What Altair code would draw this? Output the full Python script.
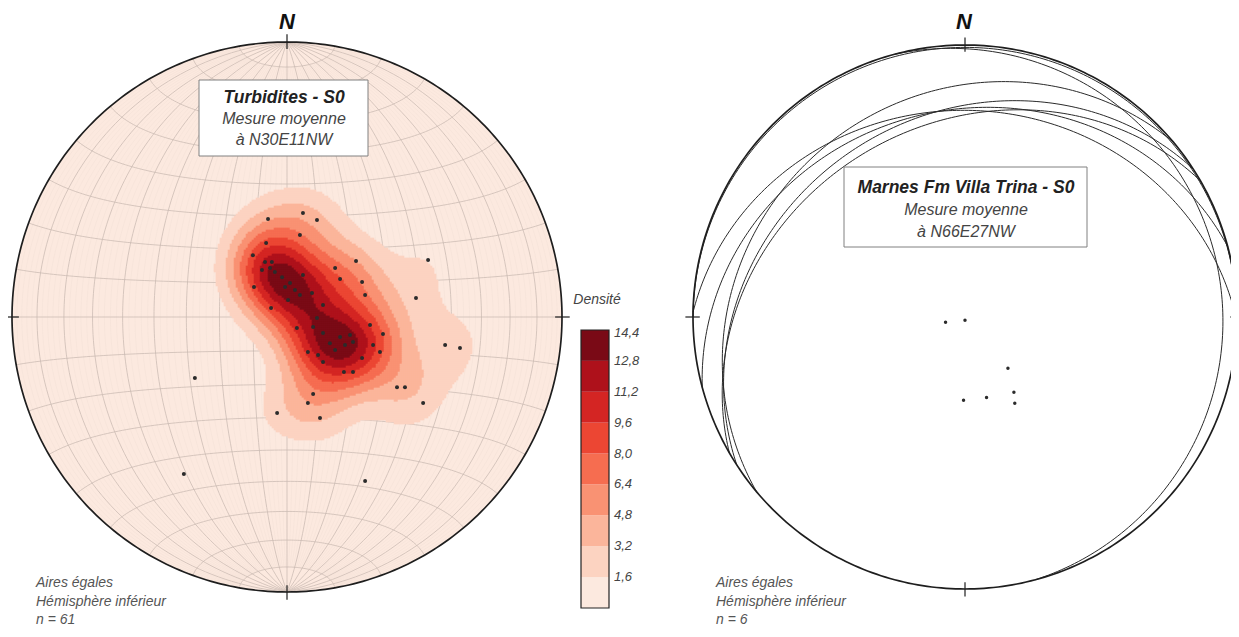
import math
import numpy as np
import pandas as pd
import altair as alt

# ---------------- data ----------------
# Left net (Turbidites - S0): poles to bedding, equal-area net coordinates
# (unit radius, x = East, y = North), n = 61
left_x = [-0.069, 0.058, 0.109, 0.047, -0.076, -0.124, 0.251, 0.513, 0.175, -0.091,
          -0.062, -0.018, 0.193, 0.273, -0.120, -0.007, 0.029, 0.058, 0.284, 0.469,
          0.004, 0.091, -0.058, 0.131, 0.036, 0.109, 0.095, 0.302, 0.349, 0.131,
          0.193, 0.240, 0.156, 0.076, 0.113, 0.131, 0.273, 0.313, 0.338, 0.207,
          0.240, 0.575, 0.629, 0.400, 0.095, 0.076, -0.036, 0.120, 0.495, -0.335,
          -0.375, 0.284, 0.429, -0.044, 0.011, -0.055, 0.211, 0.175, 0.047, -0.080, 0.229]
left_y = [0.356, 0.378, 0.353, 0.298, 0.269, 0.225, 0.204, 0.207, 0.178, 0.171,
          0.178, 0.145, 0.138, 0.127, 0.109, 0.109, 0.098, 0.153, 0.080, 0.069,
          0.062, 0.087, 0.033, 0.044, -0.040, -0.004, -0.036, -0.029, -0.062, -0.058,
          -0.073, -0.091, -0.095, -0.127, -0.138, -0.164, -0.149, -0.102, -0.127, -0.200,
          -0.200, -0.102, -0.113, -0.255, -0.280, -0.313, -0.349, -0.367, -0.313, -0.222,
          -0.571, -0.596, -0.255, 0.164, 0.124, 0.200, -0.102, -0.120, 0.080, 0.200, -0.065]

# Right net (Marnes Fm Villa Trina - S0): planes as dip direction / dip (degrees)
right_dipdir = [75, 0, 320, 1, 345, 327, 330]
right_dip = [6, 1, 20, 25, 25, 27, 30]

# Density legend (% per 1% area)
level_values = [1.6, 3.2, 4.8, 6.4, 8.0, 9.6, 11.2, 12.8, 14.4]
level_labels = ["1,6", "3,2", "4,8", "6,4", "8,0", "9,6", "11,2", "12,8", "14,4"]
level_colors = ["#fce9df", "#fcd3c1", "#fbb59b", "#f99273", "#f66d50",
                "#ec4633", "#d42523", "#ae111b", "#7a0a16"]

# ---------------- layout ----------------
LC = (287.0, 317.0); LR = 275.0      # left net centre / radius (page px)
RC = (965.0, 317.0); RR = 272.0      # right net centre / radius
FONT = "Liberation Sans"


def project(e, n, d):
    d = np.clip(d, 0, 1)
    s = 1.0 / np.sqrt(1.0 + d)
    return e * s, n * s


def plane_curve(dd, dip, t0=0.0, t1=180.0, npts=121):
    t = np.radians(np.linspace(t0, t1, npts))
    st = math.radians(dd - 90); a = math.radians(dd); b = math.radians(dip)
    se, sn = math.sin(st), math.cos(st)
    de, dn, dz = math.sin(a) * math.cos(b), math.cos(a) * math.cos(b), math.sin(b)
    e = np.cos(t) * se + np.sin(t) * de
    n = np.cos(t) * sn + np.sin(t) * dn
    d = np.sin(t) * dz
    return project(e, n, d)


def small_circle(alpha, sign, npts=121):
    phi = np.radians(np.linspace(0, 180, npts))
    a = math.radians(alpha)
    e = np.sin(a) * np.cos(phi)
    n = sign * math.cos(a) * np.ones_like(phi)
    d = np.sin(a) * np.sin(phi)
    return project(e, n, d)


def curves_df(curves, c, R):
    rows = []
    for gi, (ux, uy) in enumerate(curves):
        for oi, (a, b) in enumerate(zip(ux, uy)):
            rows.append((c[0] + R * a, c[1] - R * b, gi, oi))
    return pd.DataFrame(rows, columns=["x", "y", "g", "o"])


# ---------------- left net grid ----------------
fine, major = [], []
for dip in range(2, 90, 2):
    for dd in (90, 270):
        if dip % 10 == 0:
            major.append(plane_curve(dd, dip))
        else:
            fine.append(plane_curve(dd, dip, 10, 170, 81))
major.append(plane_curve(90, 90))
for al in range(10, 90, 10):
    for sg in (1, -1):
        major.append(small_circle(al, sg))
major.append(small_circle(90, 1))

fine_df = curves_df(fine, LC, LR)
major_df = curves_df(major, LC, LR)

# primitive circles
th = np.linspace(0, 2 * np.pi, 361)
circ = (np.sin(th), np.cos(th))
prim_df = pd.concat([curves_df([circ], LC, LR).assign(g=0),
                     curves_df([circ], RC, RR).assign(g=1)])

# ticks at N, E, S, W
tick_rows = []
gi = 0
for c, R in ((LC, LR), (RC, RR)):
    for az in (0, 90, 180, 270):
        a = math.radians(az)
        for oi, rr in enumerate((0.975, 1.028)):
            tick_rows.append((c[0] + R * rr * math.sin(a), c[1] - R * rr * math.cos(a), gi, oi))
        gi += 1
tick_df = pd.DataFrame(tick_rows, columns=["x", "y", "g", "o"])

# right net great circles
arcs_df = curves_df([plane_curve(dd, dp, 0, 180, 181) for dd, dp in zip(right_dipdir, right_dip)], RC, RR)

# right net poles
rp_rows = []
for dd, dp in zip(right_dipdir, right_dip):
    tr = math.radians(dd + 180); pl = math.radians(90 - dp)
    ex, ny = project(np.array(math.sin(tr) * math.cos(pl)), np.array(math.cos(tr) * math.cos(pl)),
                     np.array(math.sin(pl)))
    rp_rows.append((RC[0] + RR * float(ex), RC[1] - RR * float(ny)))
rpoles_df = pd.DataFrame(rp_rows, columns=["x", "y"])

# left poles
lx = np.array(left_x); ly = np.array(left_y)
lpoles_df = pd.DataFrame({"x": LC[0] + LR * lx, "y": LC[1] - LR * ly})

# ---------------- density (exponential kernel on the sphere) ----------------
r2p = lx ** 2 + ly ** 2
pd_ = 1 - r2p
pf = np.sqrt(1 + pd_)
PV = np.stack([lx * pf, ly * pf, pd_], axis=1)

step = 2.0
pxs = np.arange(LC[0] - LR + step / 2, LC[0] + LR, step)
pys = np.arange(LC[1] - LR + step / 2, LC[1] + LR, step)
GX, GY = np.meshgrid(pxs, pys)
U = (GX - LC[0]) / LR; V = (LC[1] - GY) / LR
R2 = U ** 2 + V ** 2
inside = R2 < 0.99
U = U[inside]; V = V[inside]; GXi = GX[inside]; GYi = GY[inside]
dz = 1 - (U ** 2 + V ** 2)
f = np.sqrt(1 + dz)
G = np.stack([U * f, V * f, dz], axis=1)
k = 55.0
dots = G @ PV.T
dens = k / len(left_x) * np.exp(k * (dots - 1)).sum(axis=1)
dens = dens * (level_values[-1] * 0.999 / dens.max())
lvl = np.clip(np.floor(dens / 1.6), 0, 8).astype(int)
sel = lvl >= 1
h = step / 2 + 0.3
cells_df = pd.DataFrame({"x": GXi[sel] - h, "x2": GXi[sel] + h,
                         "y": GYi[sel] - h, "y2": GYi[sel] + h, "lvl": lvl[sel]})

# ---------------- colour bar ----------------
CB_X0, CB_X1, CB_BOT, CB_H = 581, 609, 608, 278
top = level_values[-1]
bounds = [0.0] + level_values
cb_df = pd.DataFrame({
    "lvl": list(range(9)),
    "y": [CB_BOT - bounds[i + 1] / top * CB_H for i in range(9)],
    "y2": [CB_BOT - bounds[i] / top * CB_H for i in range(9)],
})
cbl_df = pd.DataFrame({"t": level_labels,
                       "y": [CB_BOT - v / top * CB_H + (3 if i == 8 else 0) for i, v in enumerate(level_values)]})

# ---------------- chart ----------------
X = lambda: alt.X("x:Q", scale=alt.Scale(domain=[8, 1231], nice=False, zero=False), axis=None)
Y = lambda f="y:Q": alt.Y(f, scale=alt.Scale(domain=[8, 629], reverse=True, nice=False, zero=False), axis=None)
color_scale = alt.Scale(domain=list(range(9)), range=level_colors)


def lines(df, color, width, opacity=1.0):
    return alt.Chart(df).mark_line(color=color, strokeWidth=width, opacity=opacity).encode(
        x=X(), y=Y(), detail="g:N", order="o:Q")


def text(s, x, y, size, bold=False, italic=True, color="#333", align="center"):
    return alt.Chart(pd.DataFrame({"a": [0]})).mark_text(
        text=s, align=align, baseline="middle", font=FONT, fontSize=size,
        fontWeight="bold" if bold else "normal", fontStyle="italic" if italic else "normal",
        color=color).encode(x=alt.value(x - 8), y=alt.value(y - 8))


def box(x0, y0, x1, y1):
    return alt.Chart(pd.DataFrame({"a": [0]})).mark_rect(fill="white", stroke="#808080", strokeWidth=1).encode(
        x=alt.value(x0 - 8), x2=alt.value(x1 - 8), y=alt.value(y0 - 8), y2=alt.value(y1 - 8))


# Vega circle symbol: radius = sqrt(size) / 2
bg = alt.Chart(pd.DataFrame({"x": [LC[0]], "y": [LC[1]]})).mark_circle(
    color=level_colors[0], opacity=1, size=4 * LR * LR).encode(x=X(), y=Y())

cells = alt.Chart(cells_df).mark_rect(strokeWidth=0).encode(
    x=X(), x2="x2:Q", y=Y(), y2="y2:Q",
    color=alt.Color("lvl:O", scale=color_scale, legend=None))

lp = alt.Chart(lpoles_df).mark_circle(color="#2b2b2b", opacity=1, size=16).encode(x=X(), y=Y())
rp = alt.Chart(rpoles_df).mark_circle(color="#2b2b2b", opacity=1, size=12).encode(x=X(), y=Y())

cbar = alt.Chart(cb_df).mark_rect(strokeWidth=0).encode(
    x=alt.value(CB_X0 - 8), x2=alt.value(CB_X1 - 8), y=Y(), y2="y2:Q",
    color=alt.Color("lvl:O", scale=color_scale, legend=None))
cbar_border = alt.Chart(pd.DataFrame({"a": [0]})).mark_rect(fill=None, stroke="#222", strokeWidth=1.2).encode(
    x=alt.value(CB_X0 - 8), x2=alt.value(CB_X1 - 8), y=alt.value(CB_BOT - CB_H - 8), y2=alt.value(CB_BOT - 8))
cbar_labels = alt.Chart(cbl_df).mark_text(align="left", baseline="middle", font=FONT, fontSize=13,
                                          fontStyle="italic", color="#444").encode(
    x=alt.value(614 - 8), y=Y(), text="t:N")

layers = [
    bg,
    lines(fine_df, "#f1ddd3", 0.4),
    lines(major_df, "#c9bab2", 0.75),
    cells,
    lp,
    lines(arcs_df, "#2a2a2a", 1.0),
    rp,
    lines(prim_df, "#1e1e1e", 1.7),
    lines(tick_df, "#1e1e1e", 1.2),
    box(199, 80, 368, 156),
    text("Turbidites - S0", 284, 98, 17.5, bold=True, color="#222"),
    text("Mesure moyenne", 284, 119, 16, color="#444"),
    text("à N30E11NW", 284, 140, 16, color="#444"),
    box(844, 167, 1087, 247),
    text("Marnes Fm Villa Trina - S0", 966, 188, 17.5, bold=True, color="#222"),
    text("Mesure moyenne", 966, 210, 16, color="#444"),
    text("à N66E27NW", 966, 232, 16, color="#444"),
    text("N", 287, 22, 22, bold=True, color="#111"),
    text("N", 964, 22, 22, bold=True, color="#111"),
    text("Aires égales", 36, 583, 14, color="#555", align="left"),
    text("Hémisphère inférieur", 36, 602, 14, color="#555", align="left"),
    text("n = 61", 36, 620, 14, color="#555", align="left"),
    text("Aires égales", 716, 583, 14, color="#555", align="left"),
    text("Hémisphère inférieur", 716, 602, 14, color="#555", align="left"),
    text("n = 6", 716, 620, 14, color="#555", align="left"),
    cbar,
    cbar_border,
    cbar_labels,
    text("Densité", 597, 300, 14, color="#444"),
]

chart = alt.layer(*layers).properties(width=1223, height=621, padding=0, autosize="none").configure_view(stroke=None)
chart.save("out.html", embed_options={"renderer": "svg", "actions": False})
